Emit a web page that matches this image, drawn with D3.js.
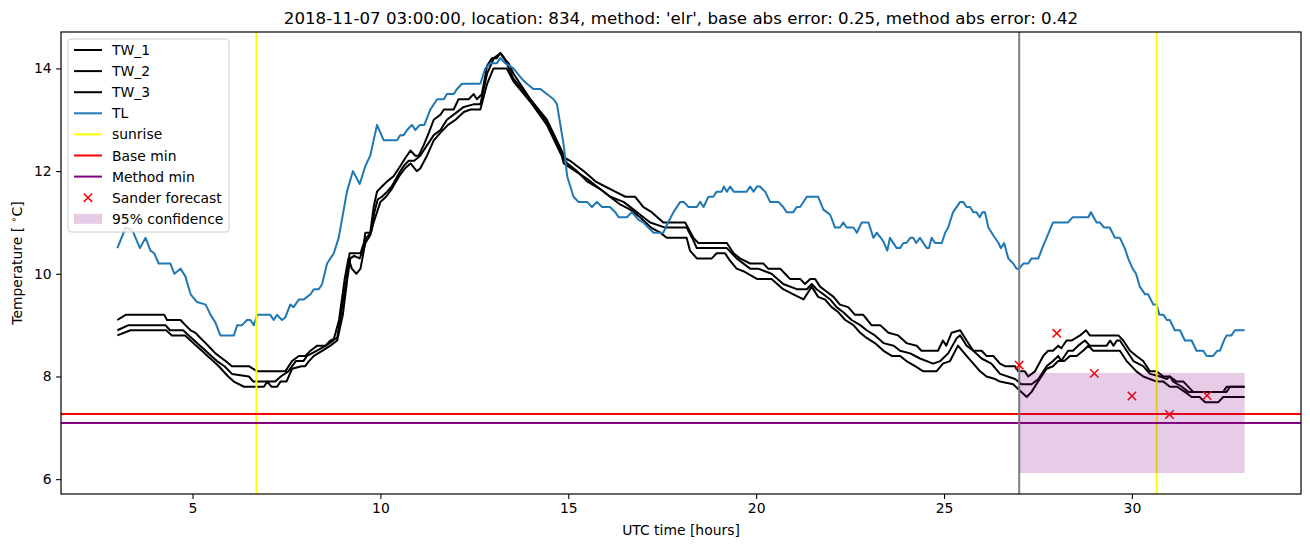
<!DOCTYPE html>
<html><head><meta charset="utf-8">
<script src="https://cdn.jsdelivr.net/npm/d3@7"></script>
<style>
body{margin:0;background:#fff;}
text{font-family:"DejaVu Sans",sans-serif;fill:#000;}
</style></head>
<body><svg id="chart" width="1310" height="547"></svg>
<script>
// ---- data (hour, temperature) ----
const tw1 = [[3.0,9.1],[3.22,9.2],[4.25,9.2],[4.32,9.1],[4.68,9.1],[4.81,9.0],[4.95,8.9],[5.08,8.85],[5.21,8.75],[5.35,8.65],[5.48,8.55],[5.61,8.45],[5.88,8.3],[6.05,8.2],[6.5,8.2],[6.72,8.1],[7.47,8.1],[7.65,8.3],[7.83,8.4],[8.0,8.4],[8.14,8.5],[8.32,8.6],[8.54,8.6],[8.67,8.7],[8.85,8.75],[8.97,9.3],[9.11,9.95],[9.18,10.4],[9.47,10.4],[9.56,10.6],[9.6,10.8],[9.73,10.8],[9.82,11.3],[9.91,11.6],[10.04,11.7],[10.18,11.8],[10.35,11.9],[10.53,12.1],[10.66,12.25],[10.8,12.4],[10.93,12.3],[11.02,12.3],[11.15,12.5],[11.29,12.75],[11.42,13.0],[11.6,13.1],[11.69,13.2],[11.95,13.2],[12.08,13.4],[12.35,13.4],[12.48,13.5],[12.57,13.4],[12.7,13.5],[12.84,14.05],[12.97,14.2],[13.1,14.2],[13.19,14.3],[13.28,14.2],[13.41,14.1],[13.54,13.9],[13.99,13.4],[14.43,13.0],[14.79,12.45],[14.92,12.25],[15.05,12.2],[15.23,12.1],[15.41,12.0],[15.72,11.8],[15.98,11.7],[16.25,11.6],[16.52,11.5],[16.78,11.5],[17.0,11.3],[17.22,11.2],[17.53,11.0],[18.11,11.0],[18.33,10.7],[18.46,10.6],[19.22,10.6],[19.4,10.4],[19.57,10.3],[19.84,10.2],[20.19,10.2],[20.32,10.1],[20.64,10.1],[20.77,10.0],[20.9,9.9],[21.17,9.9],[21.3,9.8],[21.44,9.9],[21.57,9.9],[21.7,9.75],[21.88,9.65],[22.06,9.55],[22.23,9.4],[22.45,9.35],[22.63,9.2],[22.85,9.2],[23.07,9.0],[23.3,9.0],[23.52,8.85],[23.78,8.8],[24.0,8.65],[24.27,8.6],[24.4,8.5],[24.84,8.5],[24.97,8.7],[25.06,8.6],[25.2,8.85],[25.43,8.9],[25.6,8.7],[25.78,8.5],[26.0,8.5],[26.13,8.4],[26.31,8.4],[26.49,8.25],[26.62,8.2],[26.89,8.2],[26.98,8.1],[27.15,8.1],[27.24,8.0],[27.42,8.1],[27.64,8.4],[27.77,8.5],[27.9,8.5],[28.04,8.6],[28.12,8.55],[28.26,8.7],[28.39,8.7],[28.62,8.8],[28.78,8.9],[28.88,8.8],[29.64,8.8],[29.77,8.7],[29.95,8.5],[30.12,8.4],[30.3,8.3],[30.48,8.1],[30.66,8.1],[30.84,8.0],[31.01,8.0],[31.19,7.9],[31.37,7.9],[31.63,7.7],[32.52,7.7],[32.61,7.8],[33.0,7.8]];
const tw2 = [[3.0,8.9],[3.3,9.0],[4.28,9.0],[4.4,8.9],[4.75,8.9],[4.9,8.8],[5.05,8.7],[5.2,8.6],[5.35,8.5],[5.5,8.4],[5.65,8.3],[5.85,8.2],[6.05,8.05],[6.5,8.0],[6.62,7.9],[7.2,7.9],[7.35,8.0],[7.55,8.1],[7.75,8.3],[7.95,8.3],[8.05,8.4],[8.3,8.5],[8.55,8.6],[8.75,8.7],[8.9,9.1],[9.05,9.9],[9.15,10.3],[9.24,10.1],[9.36,10.0],[9.47,10.1],[9.56,10.45],[9.62,10.7],[9.75,10.8],[9.84,11.2],[9.93,11.45],[10.04,11.5],[10.18,11.6],[10.3,11.7],[10.49,11.95],[10.62,12.1],[10.75,12.2],[10.9,12.2],[11.06,12.3],[11.24,12.5],[11.42,12.7],[11.6,12.8],[11.77,13.0],[11.95,13.1],[12.22,13.25],[12.48,13.3],[12.66,13.3],[12.84,13.9],[13.02,14.2],[13.2,14.3],[13.3,14.2],[13.54,13.8],[13.99,13.4],[14.43,12.95],[14.79,12.4],[14.88,12.15],[15.19,12.0],[15.5,11.85],[15.76,11.7],[16.12,11.5],[16.47,11.4],[16.74,11.25],[17.0,11.1],[17.18,11.0],[17.58,10.9],[18.15,10.9],[18.33,10.65],[18.42,10.5],[19.22,10.5],[19.48,10.3],[19.84,10.1],[20.05,10.1],[20.41,10.0],[20.72,9.8],[21.08,9.7],[21.35,9.7],[21.48,9.8],[21.61,9.7],[21.79,9.6],[21.97,9.5],[22.14,9.35],[22.32,9.25],[22.54,9.1],[22.77,9.0],[22.94,8.9],[23.16,8.8],[23.39,8.65],[23.66,8.6],[23.83,8.5],[24.1,8.45],[24.36,8.35],[24.71,8.25],[24.9,8.3],[25.11,8.45],[25.34,8.75],[25.43,8.8],[25.6,8.6],[25.78,8.5],[26.0,8.35],[26.26,8.25],[26.49,8.05],[26.89,7.95],[27.06,7.85],[27.33,7.85],[27.51,7.95],[27.73,8.2],[27.9,8.3],[28.04,8.4],[28.12,8.3],[28.3,8.5],[28.43,8.5],[28.57,8.6],[28.75,8.7],[28.88,8.6],[29.33,8.6],[29.42,8.7],[29.51,8.6],[29.6,8.7],[29.68,8.7],[29.86,8.5],[30.04,8.3],[30.3,8.2],[30.48,8.05],[30.75,8.0],[30.93,7.95],[31.01,8.0],[31.1,7.9],[31.33,7.8],[31.5,7.7],[32.43,7.7],[32.52,7.8],[33.0,7.8]];
const tw3 = [[3.0,8.8],[3.35,8.9],[4.3,8.9],[4.45,8.8],[4.8,8.8],[4.95,8.7],[5.1,8.6],[5.25,8.5],[5.4,8.4],[5.55,8.3],[5.7,8.2],[5.95,8.0],[6.1,7.9],[6.37,7.8],[6.9,7.8],[6.99,7.9],[7.1,7.8],[7.25,7.8],[7.34,7.9],[7.5,7.9],[7.65,8.15],[7.9,8.2],[8.0,8.2],[8.1,8.3],[8.23,8.4],[8.45,8.5],[8.67,8.6],[8.85,8.7],[9.0,9.2],[9.12,9.9],[9.2,10.3],[9.3,10.35],[9.45,10.3],[9.6,10.6],[9.73,10.75],[9.82,11.0],[10.0,11.4],[10.15,11.5],[10.3,11.65],[10.5,11.9],[10.65,12.05],[10.8,12.15],[10.97,12.0],[11.06,12.05],[11.24,12.3],[11.42,12.6],[11.6,12.75],[11.8,12.9],[12.0,13.0],[12.22,13.15],[12.4,13.2],[12.66,13.2],[12.84,13.7],[13.01,14.0],[13.36,14.0],[13.54,13.75],[13.99,13.35],[14.43,12.9],[14.79,12.35],[14.97,12.15],[15.23,12.0],[15.5,11.8],[15.85,11.65],[16.11,11.5],[16.38,11.35],[16.65,11.25],[16.91,11.1],[17.2,10.9],[17.45,10.8],[17.62,10.7],[18.15,10.7],[18.24,10.45],[18.42,10.3],[18.82,10.3],[18.95,10.4],[19.17,10.4],[19.31,10.25],[19.48,10.1],[19.66,10.05],[20.02,9.9],[20.41,9.9],[20.72,9.7],[20.99,9.6],[21.26,9.5],[21.48,9.75],[21.65,9.55],[21.83,9.5],[22.01,9.35],[22.19,9.25],[22.37,9.1],[22.59,9.0],[22.77,8.85],[22.94,8.75],[23.16,8.65],[23.39,8.5],[23.61,8.4],[23.83,8.4],[24.0,8.3],[24.23,8.2],[24.45,8.1],[24.8,8.1],[24.97,8.25],[25.16,8.3],[25.37,8.6],[25.6,8.4],[25.78,8.25],[25.96,8.1],[26.13,8.0],[26.36,7.95],[26.49,7.9],[26.84,7.85],[26.98,7.75],[27.2,7.6],[27.33,7.7],[27.5,7.9],[27.73,8.15],[27.9,8.2],[28.04,8.3],[28.2,8.3],[28.35,8.4],[28.53,8.4],[28.7,8.5],[28.84,8.6],[28.97,8.5],[29.68,8.5],[29.86,8.3],[30.12,8.1],[30.3,8.0],[30.66,7.9],[30.84,7.9],[31.01,7.8],[31.2,7.8],[31.41,7.7],[31.59,7.6],[31.8,7.6],[31.95,7.5],[32.3,7.5],[32.43,7.6],[33.0,7.6]];
const tl = [[3.0,10.5],[3.22,10.9],[3.4,10.85],[3.6,10.5],[3.75,10.7],[3.88,10.45],[3.98,10.4],[4.1,10.2],[4.41,10.2],[4.52,10.0],[4.68,10.1],[4.81,9.95],[4.95,9.6],[5.12,9.45],[5.35,9.4],[5.48,9.2],[5.61,9.05],[5.74,8.8],[6.1,8.8],[6.19,9.0],[6.32,9.0],[6.45,9.1],[6.54,9.1],[6.63,9.0],[6.72,9.2],[7.07,9.2],[7.16,9.1],[7.25,9.2],[7.38,9.1],[7.47,9.15],[7.6,9.4],[7.69,9.35],[7.83,9.5],[7.96,9.5],[8.05,9.55],[8.14,9.6],[8.23,9.7],[8.36,9.7],[8.45,9.8],[8.58,10.2],[8.76,10.4],[8.89,10.7],[9.11,11.6],[9.27,12.0],[9.45,11.75],[9.6,12.1],[9.73,12.3],[9.91,12.9],[10.09,12.6],[10.44,12.6],[10.53,12.7],[10.62,12.7],[10.71,12.8],[10.84,12.9],[10.93,12.8],[11.05,12.9],[11.17,12.9],[11.33,13.2],[11.51,13.4],[11.69,13.4],[11.77,13.5],[11.95,13.5],[12.04,13.6],[12.17,13.7],[12.66,13.7],[12.79,14.0],[12.93,14.1],[13.1,14.1],[13.19,14.2],[13.32,14.1],[13.54,14.0],[13.76,13.8],[13.9,13.7],[14.07,13.6],[14.26,13.6],[14.43,13.5],[14.61,13.4],[14.7,13.3],[14.79,12.9],[14.88,12.5],[14.97,11.9],[15.14,11.5],[15.27,11.4],[15.5,11.4],[15.63,11.3],[15.76,11.4],[15.9,11.3],[16.11,11.3],[16.25,11.2],[16.34,11.1],[16.56,11.1],[16.69,11.2],[16.87,11.05],[17.0,11.0],[17.13,10.9],[17.27,10.8],[17.53,10.8],[17.62,10.95],[17.8,11.2],[17.98,11.4],[18.07,11.4],[18.2,11.3],[18.42,11.3],[18.51,11.4],[18.6,11.3],[18.73,11.5],[18.86,11.5],[18.95,11.6],[19.08,11.6],[19.14,11.7],[19.22,11.6],[19.31,11.7],[19.4,11.6],[19.75,11.6],[19.84,11.7],[19.93,11.6],[20.02,11.7],[20.1,11.7],[20.24,11.6],[20.37,11.4],[20.59,11.4],[20.72,11.3],[20.81,11.2],[20.99,11.2],[21.08,11.3],[21.17,11.3],[21.35,11.5],[21.65,11.5],[21.79,11.25],[21.88,11.2],[21.97,11.15],[22.1,10.9],[22.23,10.9],[22.32,11.0],[22.41,10.9],[22.59,10.9],[22.68,10.8],[22.81,11.0],[22.99,11.0],[23.12,10.7],[23.21,10.8],[23.37,10.65],[23.49,10.45],[23.56,10.7],[23.74,10.5],[23.83,10.5],[23.92,10.6],[24.0,10.6],[24.1,10.7],[24.18,10.7],[24.26,10.6],[24.36,10.7],[24.54,10.5],[24.6,10.5],[24.67,10.7],[24.76,10.6],[24.94,10.6],[25.03,10.8],[25.11,10.9],[25.24,11.2],[25.43,11.4],[25.51,11.4],[25.6,11.3],[25.69,11.3],[25.78,11.2],[25.86,11.2],[25.95,11.1],[26.02,11.2],[26.09,11.2],[26.18,10.9],[26.31,10.75],[26.45,10.6],[26.51,10.5],[26.6,10.6],[26.71,10.3],[26.84,10.2],[26.93,10.1],[27.0,10.1],[27.11,10.2],[27.24,10.2],[27.33,10.3],[27.51,10.3],[27.64,10.55],[27.73,10.7],[27.9,11.0],[28.3,11.0],[28.42,11.1],[28.84,11.1],[28.91,11.2],[29.06,11.0],[29.15,11.0],[29.26,10.9],[29.41,10.9],[29.55,10.7],[29.68,10.7],[29.81,10.5],[29.9,10.3],[30.02,10.1],[30.11,10.0],[30.21,9.75],[30.35,9.6],[30.43,9.6],[30.57,9.4],[30.66,9.4],[30.73,9.2],[30.84,9.2],[30.93,9.1],[31.01,9.1],[31.14,8.9],[31.28,8.9],[31.41,8.7],[31.59,8.7],[31.72,8.5],[31.9,8.5],[31.99,8.4],[32.16,8.4],[32.27,8.5],[32.34,8.5],[32.45,8.7],[32.52,8.8],[32.65,8.8],[32.74,8.9],[33.0,8.9]];
const sunriseHours = [6.7, 30.66];
const forecastIssueHour = 27;
const baseMin = 7.27;
const methodMin = 7.095;
const forecastHours = [27, 28, 29, 30, 31, 32];
const forecastValues = [8.22, 8.84, 8.06, 7.62, 7.26, 7.63];
const confHours = [27, 33];
const confBand = [6.12, 8.07];
const xTicks = [5, 10, 15, 20, 25, 30];
const yTicks = [6, 8, 10, 12, 14];
const titleText = "2018-11-07 03:00:00, location: 834, method: 'elr', base abs error: 0.25, method abs error: 0.42";
const legendLabels = ["TW_1","TW_2","TW_3","TL","sunrise","Base min","Method min","Sander forecast","95% confidence"];

// ---- layout ----
const L = 61, R = 1301, T = 32, B = 494;
const LW = 2;
const svg = d3.select("#chart");
const x = d3.scaleLinear().domain([1.5, 34.5]).range([L, R]);
const y = d3.scaleLinear().domain([5.711, 14.709]).range([B, T]);

const plot = svg.append("g");
plot.append("defs").append("clipPath").attr("id","clip")
  .append("rect").attr("x",L).attr("y",T).attr("width",R-L).attr("height",B-T);
const g = plot.append("g").attr("clip-path","url(#clip)");

const line = d3.line().x(d=>x(d[0])).y(d=>y(d[1]));

[tw1, tw2, tw3].forEach(s => g.append("path").datum(s).attr("d", line)
  .attr("fill","none").attr("stroke","#000").attr("stroke-width",LW).attr("stroke-linejoin","round"));
g.append("path").datum(tl).attr("d", line).attr("fill","none")
  .attr("stroke","#1f77b4").attr("stroke-width",LW).attr("stroke-linejoin","round");

sunriseHours.forEach(h => g.append("line").attr("x1",x(h)).attr("x2",x(h)).attr("y1",T).attr("y2",B)
  .attr("stroke","#ffff00").attr("stroke-width",LW));
g.append("line").attr("x1",L).attr("x2",R).attr("y1",y(baseMin)).attr("y2",y(baseMin)).attr("stroke","#ff0000").attr("stroke-width",LW);
g.append("line").attr("x1",L).attr("x2",R).attr("y1",y(methodMin)).attr("y2",y(methodMin)).attr("stroke","#800080").attr("stroke-width",LW);
g.append("line").attr("x1",x(forecastIssueHour)).attr("x2",x(forecastIssueHour)).attr("y1",T).attr("y2",B)
  .attr("stroke","#808080").attr("stroke-width",LW);
const ms = 4.2;
forecastHours.forEach((h,i)=>{
  const cx = x(h), cy = y(forecastValues[i]);
  g.append("path").attr("d",`M${cx-ms},${cy-ms}L${cx+ms},${cy+ms}M${cx-ms},${cy+ms}L${cx+ms},${cy-ms}`)
   .attr("stroke","#ff0000").attr("stroke-width",1.5).attr("fill","none");
});
g.append("rect").attr("x",x(confHours[0])).attr("width",x(confHours[1])-x(confHours[0]))
  .attr("y",y(confBand[1])).attr("height",y(confBand[0])-y(confBand[1]))
  .attr("fill","#800080").attr("fill-opacity",0.2);

const fs = "13.9px";
const xAxis = svg.append("g").attr("transform",`translate(0,${B})`)
  .call(d3.axisBottom(x).tickValues(xTicks).tickSize(4.9).tickPadding(4.5).tickFormat(d3.format("d")));
const yAxis = svg.append("g").attr("transform",`translate(${L},0)`)
  .call(d3.axisLeft(y).tickValues(yTicks).tickSize(4.9).tickPadding(4.5).tickFormat(d3.format("d")));
[xAxis,yAxis].forEach(a=>{
  a.select(".domain").remove();
  a.selectAll("line").attr("stroke","#000").attr("stroke-width",1.1);
  a.selectAll("text").attr("font-family","DejaVu Sans").attr("font-size",fs).attr("fill","#000");
});
svg.append("rect").attr("x",L).attr("y",T).attr("width",R-L).attr("height",B-T)
  .attr("fill","none").attr("stroke","#000").attr("stroke-width",1.2);

svg.append("text").attr("x",(L+R)/2).attr("y",24).attr("text-anchor","middle").attr("font-size","16.67px").text(titleText);
svg.append("text").attr("x",(L+R)/2).attr("y",535).attr("text-anchor","middle").attr("font-size",fs).text("UTC time [hours]");
const yl = svg.append("text").attr("transform","translate(22,263) rotate(-90)").attr("text-anchor","middle").attr("font-size",fs);
yl.append("tspan").text("Temperature [ ");
yl.append("tspan").attr("font-size","9.7px").attr("dy","-5").text("∘");
yl.append("tspan").attr("dy","5").text("C]");

const lg = svg.append("g");
lg.append("rect").attr("x",68).attr("y",39).attr("width",161).attr("height",193).attr("rx",3)
  .attr("fill","#fff").attr("fill-opacity",0.8).attr("stroke","#cccccc").attr("stroke-width",1);
const colors = ["#000","#000","#000","#1f77b4","#ffff00","#ff0000","#800080"];
legendLabels.forEach((lab,i)=>{
  const yy = 50 + i*21.1;
  if (i < 7) {
    lg.append("line").attr("x1",74).attr("x2",102).attr("y1",yy).attr("y2",yy).attr("stroke",colors[i]).attr("stroke-width",LW);
  } else if (i === 7) {
    const cx = 88;
    lg.append("path").attr("d",`M${cx-ms},${yy-ms}L${cx+ms},${yy+ms}M${cx-ms},${yy+ms}L${cx+ms},${yy-ms}`)
      .attr("stroke","#ff0000").attr("stroke-width",1.5);
  } else {
    lg.append("rect").attr("x",74).attr("y",yy-5).attr("width",28).attr("height",10).attr("fill","#800080").attr("fill-opacity",0.2);
  }
  lg.append("text").attr("x",112).attr("y",yy+5).attr("font-size",fs).text(lab);
});
</script></body></html>
